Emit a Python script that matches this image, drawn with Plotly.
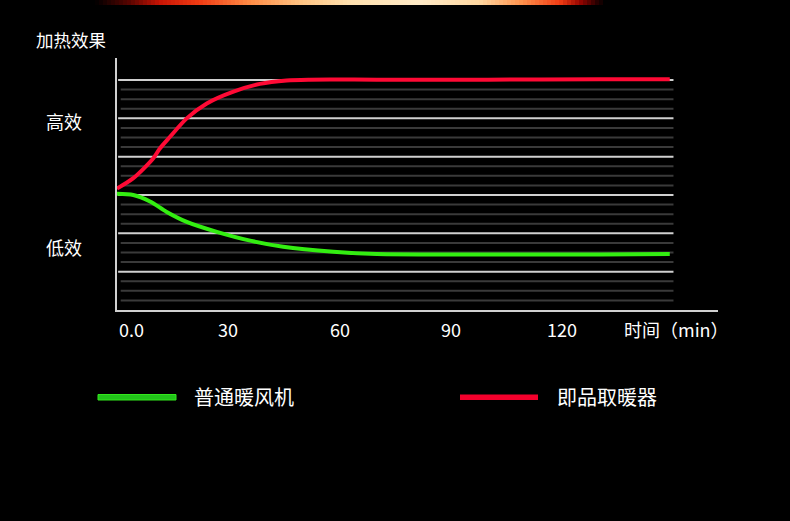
import numpy as np
import plotly.graph_objects as go

# ---- data ----
red_name = "即品取暖器"
green_name = "普通暖风机"
red_t = [0, 4.4, 9.8, 11.6, 14.3, 18.8, 24.2, 31.4, 38.5, 45.7, 52, 70, 100, 130, 149]
red_v = [3.17, 3.44, 3.96, 4.22, 4.52, 5.0, 5.39, 5.70, 5.90, 5.99, 6.01, 6.01, 6.01, 6.02, 6.02]
green_t = [0, 4.4, 8.9, 13.4, 18.8, 26.9, 35.9, 44.8, 58.3, 70, 100, 130, 149]
green_v = [3.03, 3.0, 2.83, 2.56, 2.30, 2.04, 1.81, 1.65, 1.52, 1.46, 1.45, 1.45, 1.46]
x_tick_vals = [30, 60, 90, 120]
x_tick_text = ["30", "60", "90", "120"]
y_labels = ["高效", "低效"]
y_label_pos = [4.93, 1.64]

W, H = 790, 521
L, R, T, B = 117, 72, 58, 211
XMAX = 162
YMAX = 6.575
FONT = "Noto Sans CJK SC"

def px(xp):
    return (xp - L) / (W - L - R)

def py(yp):
    return (H - B - yp) / (H - T - B)

fig = go.Figure()

shapes = []
# grid lines (minor dark, major light), ending at x=150
for i in range(1, 25):
    yv = i * 0.25
    major = (i % 4 == 0)
    shapes.append(dict(type="line", xref="x", yref="y",
                       x0=0.3 if major else 1.0, x1=150, y0=yv, y1=yv,
                       line=dict(color="#d0d0d0" if major else "#3a3a3a", width=2),
                       layer="below"))

# decorative glowing strip at the top
stops_x = [95, 130, 160, 200, 250, 300, 350, 420, 480, 520, 560, 580, 600]
stops_c = [(0, 0, 0), (90, 5, 0), (200, 20, 5), (240, 60, 20), (255, 140, 70), (255, 195, 130),
           (255, 225, 175), (255, 235, 200), (255, 215, 160), (255, 150, 80), (240, 60, 20),
           (150, 5, 0), (20, 0, 0)]
sx = np.array(stops_x, dtype=float)
for xa in range(95, 600, 4):
    c = [int(np.interp(xa + 2, sx, [s[k] for s in stops_c])) for k in range(3)]
    shapes.append(dict(type="rect", xref="paper", yref="paper",
                       x0=px(xa), x1=px(xa + 4), y0=py(5), y1=py(0),
                       fillcolor=f"rgb({c[0]},{c[1]},{c[2]})", line=dict(width=0), layer="above"))

# legend swatches
shapes.append(dict(type="rect", xref="paper", yref="paper", x0=px(98), x1=px(176), y0=py(400), y1=py(394.5),
                   fillcolor="#22c41a", line=dict(color="#33e81c", width=1)))
shapes.append(dict(type="rect", xref="paper", yref="paper", x0=px(460), x1=px(538), y0=py(400), y1=py(394.5),
                   fillcolor="#f5002c", line=dict(width=0)))

fig.add_trace(go.Scatter(x=red_t, y=red_v, mode="lines", name=red_name,
                         line=dict(color="#ff0a35", width=4, shape="spline", smoothing=0.8),
                         showlegend=False))
fig.add_trace(go.Scatter(x=green_t, y=green_v, mode="lines", name=green_name,
                         line=dict(color="#33ee11", width=4, shape="spline", smoothing=0.8),
                         showlegend=False))

ann = []
ann.append(dict(text="加热效果", xref="paper", yref="paper", x=px(34), y=py(39), xanchor="left",
                yanchor="middle", showarrow=False, font=dict(family=FONT, size=17.5, color="#ffffff")))
for lab, yv in zip(y_labels, y_label_pos):
    ann.append(dict(text=lab, xref="paper", yref="y", x=px(64), y=yv, xanchor="center",
                    yanchor="middle", showarrow=False, font=dict(family=FONT, size=18, color="#ffffff")))
ann.append(dict(text="0.0", xref="x", yref="paper", x=0, y=py(329), xanchor="left", yanchor="middle",
                showarrow=False, font=dict(family=FONT, size=18, color="#ffffff")))
for v, t in zip(x_tick_vals, x_tick_text):
    ann.append(dict(text=t, xref="x", yref="paper", x=v, y=py(329), xanchor="center", yanchor="middle",
                    showarrow=False, font=dict(family=FONT, size=18, color="#ffffff")))
ann.append(dict(text="时间（min）", xref="paper", yref="paper", x=px(731), y=py(329), xanchor="right",
                yanchor="middle", showarrow=False, font=dict(family=FONT, size=18, color="#ffffff")))
ann.append(dict(text=green_name, xref="paper", yref="paper", x=px(192), y=py(396), xanchor="left",
                yanchor="middle", showarrow=False, font=dict(family=FONT, size=20, color="#ffffff")))
ann.append(dict(text=red_name, xref="paper", yref="paper", x=px(555), y=py(396), xanchor="left",
                yanchor="middle", showarrow=False, font=dict(family=FONT, size=20, color="#ffffff")))

fig.update_layout(
    width=W, height=H,
    margin=dict(l=L, r=R, t=T, b=B, pad=0),
    paper_bgcolor="#000000", plot_bgcolor="#000000",
    shapes=shapes, annotations=ann,
    xaxis=dict(range=[0, XMAX], showgrid=False, zeroline=False, showticklabels=False, ticks="",
               showline=True, linecolor="#d0d0d0", linewidth=2, fixedrange=True),
    yaxis=dict(range=[0, YMAX], showgrid=False, zeroline=False, showticklabels=False, ticks="",
               showline=True, linecolor="#d0d0d0", linewidth=2, fixedrange=True),
    showlegend=False,
)

fig.write_html("out.html", config={"displayModeBar": False},
               post_script="document.body.style.margin='0';document.body.style.background='#000';")
